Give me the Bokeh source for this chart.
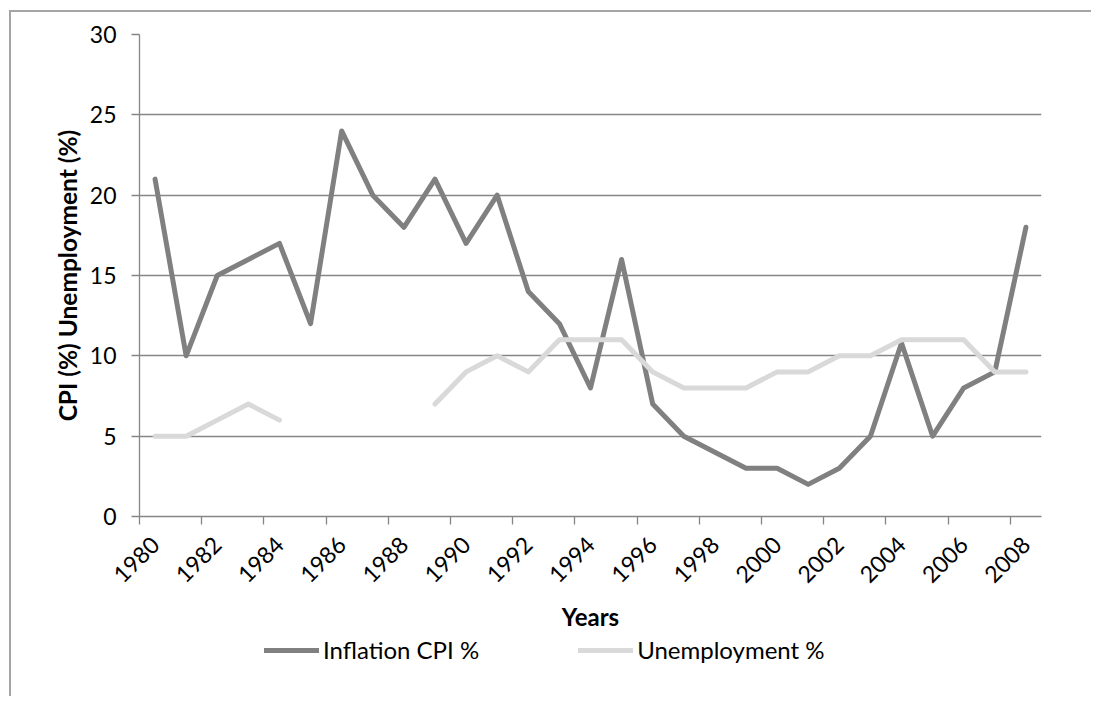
import math
from bokeh.plotting import figure
from bokeh.layouts import column
from bokeh.models import FixedTicker, Legend, LegendItem, Range1d, ColumnDataSource
from bokeh.embed import file_html
from bokeh.resources import INLINE

years = list(range(1980, 2009))
inflation = [21, 10, 15, 16, 17, 12, 24, 20, 18, 21, 17, 20, 14, 12, 8, 16, 7, 5, 4, 3,
             3, 2, 3, 5, 10.8, 5, 8, 9, 18]
unemployment = [5, 5, 6, 7, 6, None, None, None, None, 7, 9, 10, 9, 11, 11, 11, 9, 8, 8, 8,
                9, 9, 10, 10, 11, 11, 11, 9, 9]
tick_years = years[::2]
y_ticks = [0, 5, 10, 15, 20, 25, 30]

series_names = ["Inflation CPI %", "Unemployment %"]
colors = ["#808080", "#d9d9d9"]

src = ColumnDataSource(dict(
    year=years,
    infl=inflation,
    unemp=[float("nan") if v is None else v for v in unemployment],
))

GRID = "#868686"
FONT = "Lato"
FS = "23px"
LW = 5

p = figure(width=1080, height=622, output_backend="svg", toolbar_location=None,
           x_range=Range1d(years[0] - 0.5, years[-1] + 0.5),
           y_range=Range1d(y_ticks[0], y_ticks[-1]),
           min_border_left=128, min_border_right=50, min_border_top=22,
           min_border_bottom=118)
p.outline_line_color = None
p.background_fill_color = "white"
p.border_fill_color = "white"

p.line("year", "infl", source=src, line_color=colors[0], line_width=LW,
       line_join="round", line_cap="round")
p.line("year", "unemp", source=src, line_color=colors[1], line_width=LW,
       line_join="round", line_cap="round")

p.xgrid.visible = False
p.ygrid.ticker = FixedTicker(ticks=y_ticks)
p.ygrid.grid_line_color = GRID
p.ygrid.grid_line_width = 1.3

xa = p.xaxis[0]
xa.ticker = FixedTicker(ticks=tick_years, minor_ticks=[y - 0.5 for y in tick_years])
xa.major_tick_out = 0
xa.major_tick_in = 0
xa.minor_tick_out = 8
xa.minor_tick_in = 0
xa.minor_tick_line_color = GRID
xa.minor_tick_line_width = 1.3
xa.axis_line_color = GRID
xa.axis_line_width = 1.3
xa.major_label_orientation = math.pi / 4
xa.major_label_text_font = FONT
xa.major_label_text_font_size = FS
xa.major_label_text_color = "black"
xa.major_label_standoff = 16
xa.axis_label = "Years"
xa.axis_label_text_font = FONT
xa.axis_label_text_font_size = "24px"
xa.axis_label_text_font_style = "bold"
xa.axis_label_text_color = "black"
xa.axis_label_standoff = 9

ya = p.yaxis[0]
ya.ticker = FixedTicker(ticks=y_ticks)
ya.major_tick_out = 8
ya.major_tick_in = 0
ya.minor_tick_out = 0
ya.minor_tick_in = 0
ya.major_tick_line_color = GRID
ya.major_tick_line_width = 1.3
ya.axis_line_color = GRID
ya.axis_line_width = 1.3
ya.major_label_text_font = FONT
ya.major_label_text_font_size = FS
ya.major_label_text_color = "black"
ya.major_label_standoff = 15
ya.axis_label = "CPI (%) Unemployment (%)"
ya.axis_label_text_font = FONT
ya.axis_label_text_font_size = "24.5px"
ya.axis_label_text_font_style = "bold"
ya.axis_label_text_color = "black"
ya.axis_label_standoff = 5

# legend strip below the chart (its frame is aligned with the chart's frame)
p2 = figure(width=1080, height=62, output_backend="svg", toolbar_location=None,
            x_range=Range1d(0, 1), y_range=Range1d(0, 1),
            min_border=0, x_axis_type=None, y_axis_type=None)
p2.outline_line_color = None
p2.xgrid.visible = False
p2.ygrid.visible = False
k1 = p2.line("year", "infl", source=src, line_color=colors[0], line_width=LW, line_cap="round")
k2 = p2.line("year", "unemp", source=src, line_color=colors[1], line_width=LW, line_cap="round")
legend = Legend(items=[LegendItem(label=series_names[0], renderers=[k1]),
                       LegendItem(label=series_names[1], renderers=[k2])],
                orientation="horizontal", location=(125, 32), spacing=99,
                glyph_width=55, glyph_height=20, label_standoff=4,
                border_line_color=None, background_fill_alpha=0,
                padding=0, margin=0, label_text_font=FONT,
                label_text_font_size="24px", label_text_color="black")
p2.add_layout(legend)

layout = column(p, p2, spacing=0)
layout.styles = {"margin-left": "9px", "margin-top": "10px",
                 "border-left": "2px solid #a5a5a5", "border-top": "2px solid #a5a5a5"}

open("out.html", "w").write(file_html(layout, INLINE))
